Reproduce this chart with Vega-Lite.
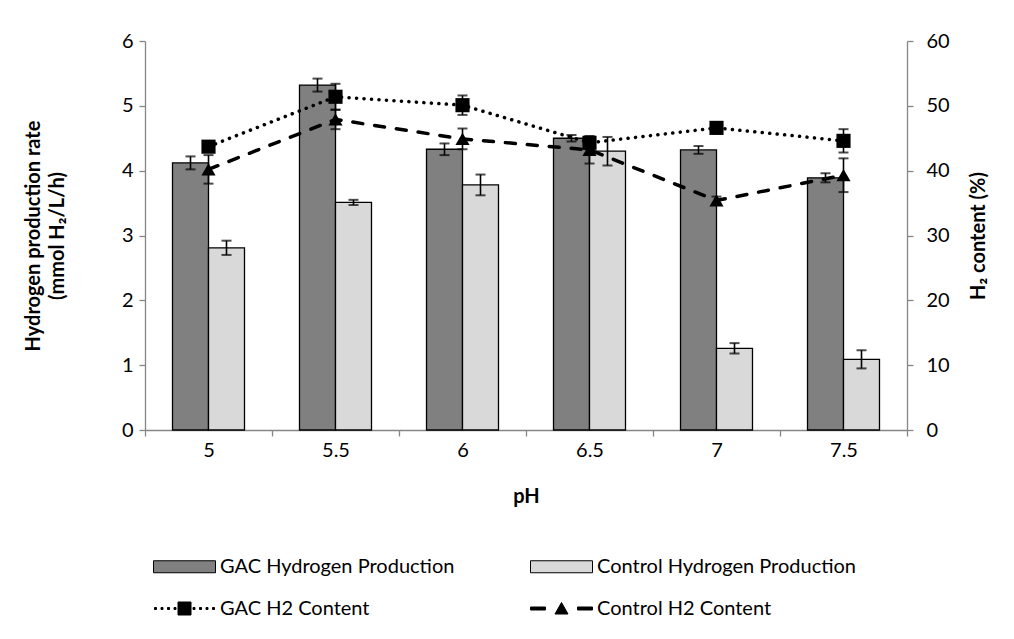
{
  "$schema": "https://vega.github.io/schema/vega-lite/v6.json",
  "width": 762,
  "height": 389,
  "autosize": {"type": "none"},
  "padding": {"left": 145, "top": 41, "right": 107, "bottom": 209},
  "background": "white",
  "config": {
    "font": "Lato",
    "view": {"stroke": null},
    "axis": {
      "grid": false,
      "domainColor": "#868686",
      "domainWidth": 1.3,
      "tickColor": "#868686",
      "tickWidth": 1.3,
      "tickSize": 6,
      "labelFont": "Lato",
      "labelFontSize": 20,
      "labelColor": "#000000",
      "titleFont": "Lato",
      "titleFontSize": 20,
      "titleFontWeight": "bold",
      "titleColor": "#000000"
    }
  },
  "datasets": {
    "rate": [
      {"pH": "5", "series": "GAC Hydrogen Production", "rate": 4.12, "err": 0.10},
      {"pH": "5", "series": "Control Hydrogen Production", "rate": 2.81, "err": 0.11},
      {"pH": "5.5", "series": "GAC Hydrogen Production", "rate": 5.32, "err": 0.10},
      {"pH": "5.5", "series": "Control Hydrogen Production", "rate": 3.51, "err": 0.04},
      {"pH": "6", "series": "GAC Hydrogen Production", "rate": 4.33, "err": 0.09},
      {"pH": "6", "series": "Control Hydrogen Production", "rate": 3.78, "err": 0.16},
      {"pH": "6.5", "series": "GAC Hydrogen Production", "rate": 4.50, "err": 0.05},
      {"pH": "6.5", "series": "Control Hydrogen Production", "rate": 4.30, "err": 0.22},
      {"pH": "7", "series": "GAC Hydrogen Production", "rate": 4.32, "err": 0.06},
      {"pH": "7", "series": "Control Hydrogen Production", "rate": 1.26, "err": 0.08},
      {"pH": "7.5", "series": "GAC Hydrogen Production", "rate": 3.89, "err": 0.07},
      {"pH": "7.5", "series": "Control Hydrogen Production", "rate": 1.09, "err": 0.14}
    ],
    "content": [
      {"pH": "5", "series": "GAC H2 Content", "content": 43.7, "err": 0.5},
      {"pH": "5.5", "series": "GAC H2 Content", "content": 51.4, "err": 2.0},
      {"pH": "6", "series": "GAC H2 Content", "content": 50.1, "err": 1.5},
      {"pH": "6.5", "series": "GAC H2 Content", "content": 44.3, "err": 1.0},
      {"pH": "7", "series": "GAC H2 Content", "content": 46.6, "err": 0.4},
      {"pH": "7.5", "series": "GAC H2 Content", "content": 44.6, "err": 1.8},
      {"pH": "5", "series": "Control H2 Content", "content": 40.2, "err": 2.2},
      {"pH": "5.5", "series": "Control H2 Content", "content": 47.9, "err": 1.5},
      {"pH": "6", "series": "Control H2 Content", "content": 44.9, "err": 1.6},
      {"pH": "6.5", "series": "Control H2 Content", "content": 43.2, "err": 2.1},
      {"pH": "7", "series": "Control H2 Content", "content": 35.4, "err": 0.6},
      {"pH": "7.5", "series": "Control H2 Content", "content": 39.3, "err": 2.6}
    ]
  },
  "layer": [
    {
      "data": {"name": "rate"},
      "layer": [
        {
          "mark": {"type": "bar", "stroke": "#000000", "strokeWidth": 1.3},
          "encoding": {
            "x": {
              "field": "pH",
              "type": "ordinal",
              "title": "pH",
              "scale": {"paddingInner": 0, "paddingOuter": 0},
              "axis": {
                "labelAngle": 0,
                "tickBand": "extent",
                "labelPadding": 4,
                "titleY": 66,
                "titleBaseline": "middle"
              }
            },
            "xOffset": {
              "field": "series",
              "type": "nominal",
              "scale": {
                "domain": ["GAC Hydrogen Production", "Control Hydrogen Production"],
                "paddingInner": 0,
                "paddingOuter": 0.764
              }
            },
            "y": {
              "field": "rate",
              "type": "quantitative",
              "title": ["Hydrogen production rate", "(mmol H₂/L/h)"],
              "scale": {"domain": [0, 6]},
              "axis": {
                "values": [0, 1, 2, 3, 4, 5, 6],
                "format": "d",
                "labelPadding": 6,
                "titleAngle": 270,
                "titleX": -112,
                "titleY": 194.5,
                "titleBaseline": "middle",
                "titleLineHeight": 24
              }
            },
            "fill": {
              "field": "series",
              "type": "nominal",
              "scale": {
                "domain": ["GAC Hydrogen Production", "Control Hydrogen Production", "GAC H2 Content", "Control H2 Content"],
                "range": ["#808080", "#d9d9d9", "#000000", "#000000"]
              },
              "legend": {
                "title": null,
                "orient": "none",
                "direction": "horizontal",
                "legendX": 50,
                "legendY": 515,
                "columns": 2,
                "padding": 0,
                "symbolSize": 400,
                "symbolStrokeColor": "#000000",
                "symbolStrokeWidth": 1,
                "labelFont": "Lato",
                "labelFontSize": 20,
                "labelColor": "#000000",
                "labelOffset": 4,
                "labelLimit": 400,
                "rowPadding": 21,
                "columnPadding": 73,
                "encode": {
                  "symbols": {
                    "update": {
                      "shape": {
                        "signal": "datum.value == 'GAC H2 Content' ? 'M-5.1,-0.1h0.2v0.2h-0.2Z M-4.45,-0.1h0.2v0.2h-0.2Z M-3.8,-0.1h0.2v0.2h-0.2Z M-3.15,-0.1h0.2v0.2h-0.2Z M-2.75,-0.65H-1.45V0.65H-2.75Z M-1.25,-0.1h0.2v0.2h-0.2Z M-0.6,-0.1h0.2v0.2h-0.2Z M0.05,-0.1h0.2v0.2h-0.2Z M0.7,-0.1h0.2v0.2h-0.2Z' : datum.value == 'Control H2 Content' ? 'M-5.2,-0.15H-3.7V0.15H-5.2Z M-2.75,0.55L-2.1,-0.6L-1.45,0.55Z M-0.5,-0.15H1V0.15H-0.5Z' : 'M-5.2,-0.6H1V0.6H-5.2Z'"
                      }
                    }
                  }
                }
              }
            }
          }
        },
        {
          "mark": {
            "type": "errorbar",
            "color": "#000000",
            "ticks": {"size": 10, "thickness": 2},
            "rule": {"strokeWidth": 1.6}
          },
          "encoding": {
            "x": {"field": "pH", "type": "ordinal", "title": "pH"},
            "xOffset": {"field": "series", "type": "nominal"},
            "y": {"field": "rate", "type": "quantitative", "title": ["Hydrogen production rate", "(mmol H₂/L/h)"]},
            "yError": {"field": "err"}
          }
        }
      ]
    },
    {
      "data": {"name": "content"},
      "layer": [
        {
          "mark": {"type": "line", "color": "#000000", "strokeWidth": 3.5, "strokeCap": "round"},
          "encoding": {
            "x": {"field": "pH", "type": "ordinal", "title": "pH"},
            "y": {
              "field": "content",
              "type": "quantitative",
              "title": "H₂ content (%)",
              "scale": {"domain": [0, 60]},
              "axis": {
                "orient": "right",
                "values": [0, 10, 20, 30, 40, 50, 60],
                "labelPadding": 13,
                "titleAngle": 270,
                "titleX": 71,
                "titleY": 194.5,
                "titleBaseline": "middle"
              }
            },
            "strokeDash": {
              "field": "series",
              "type": "nominal",
              "scale": {
                "domain": ["GAC H2 Content", "Control H2 Content"],
                "range": [[0.1, 7.4], [10, 12]]
              },
              "legend": null
            }
          }
        },
        {
          "mark": {"type": "point", "filled": true, "color": "#000000", "opacity": 1, "size": 200},
          "encoding": {
            "x": {"field": "pH", "type": "ordinal", "title": "pH"},
            "y": {"field": "content", "type": "quantitative", "title": "H₂ content (%)"},
            "shape": {
              "field": "series",
              "type": "nominal",
              "scale": {
                "domain": ["GAC H2 Content", "Control H2 Content"],
                "range": ["square", "triangle-up"]
              },
              "legend": null
            }
          }
        },
        {
          "mark": {
            "type": "errorbar",
            "color": "#000000",
            "ticks": {"size": 10, "thickness": 2},
            "rule": {"strokeWidth": 1.6}
          },
          "encoding": {
            "x": {"field": "pH", "type": "ordinal", "title": "pH"},
            "y": {"field": "content", "type": "quantitative", "title": "H₂ content (%)"},
            "yError": {"field": "err"}
          }
        }
      ]
    }
  ],
  "resolve": {"scale": {"y": "independent"}}
}
